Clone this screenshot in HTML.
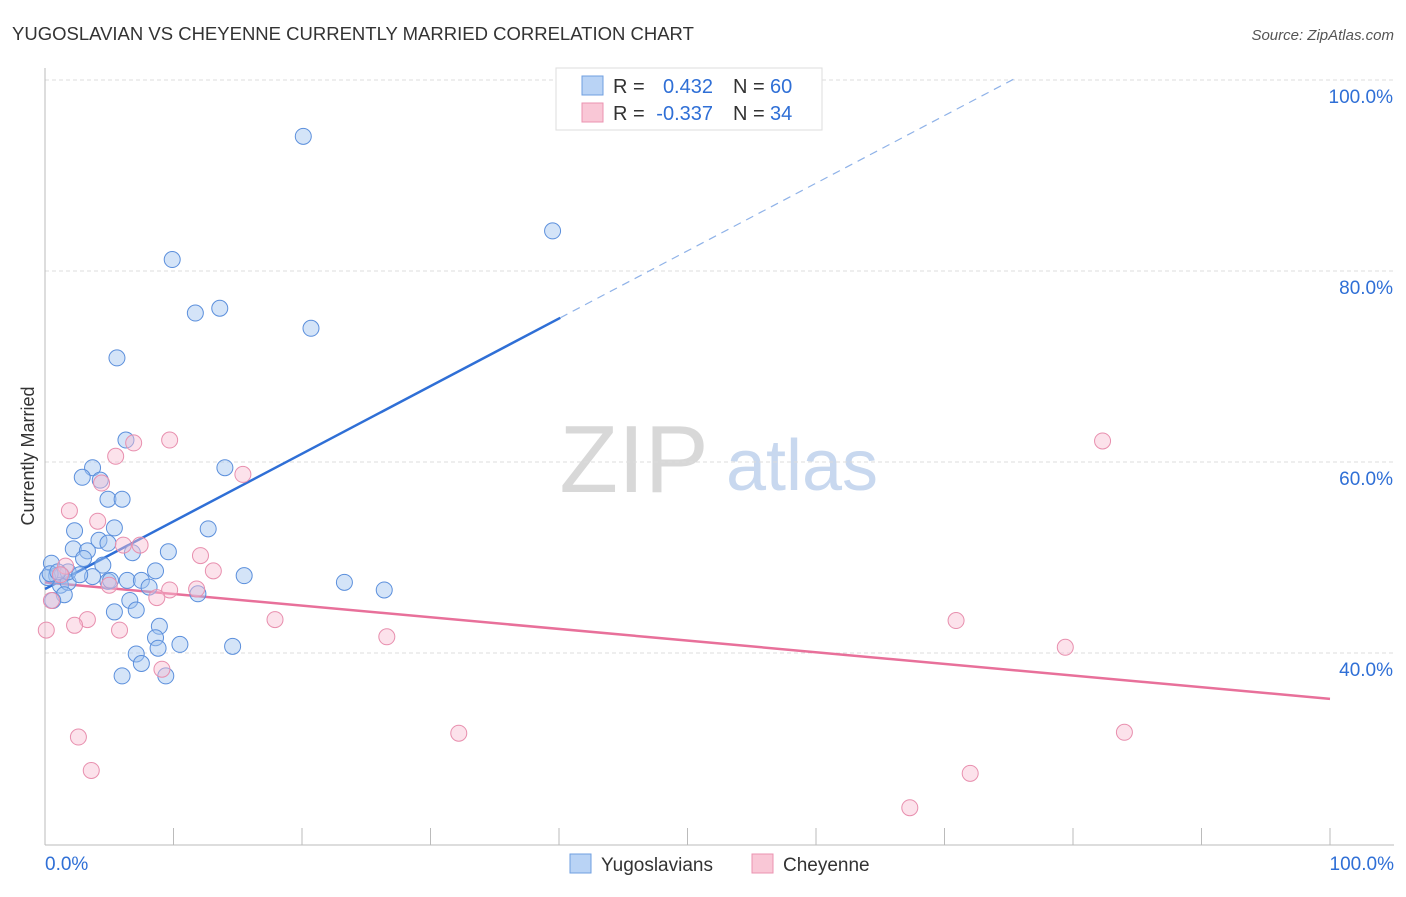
<!DOCTYPE html>
<html><head><meta charset="utf-8"><style>
body{margin:0;background:#fff;font-family:"Liberation Sans",sans-serif;}
svg text{font-family:"Liberation Sans",sans-serif;}
</style></head><body>
<svg id="chart" width="1406" height="892" xmlns="http://www.w3.org/2000/svg">
<text x="12" y="40" font-size="18.5" fill="#333">YUGOSLAVIAN VS CHEYENNE CURRENTLY MARRIED CORRELATION CHART</text>
<text x="1394" y="40" font-size="15" fill="#555" font-style="italic" text-anchor="end">Source: ZipAtlas.com</text>
<text x="34" y="456" font-size="18" fill="#333" text-anchor="middle" transform="rotate(-90 34 456)">Currently Married</text>
<g><text x="634" y="492" font-size="96" fill="#d8d8d8" font-family="Liberation Serif" text-anchor="middle">ZIP</text><text x="802" y="490" font-size="72" fill="#c8d8ef" text-anchor="middle">atlas</text></g>
<g id="grid"></g><g id="axes"></g><g id="lines"></g><g id="pts"></g>
<g>
<rect x="556" y="68" width="266" height="62" fill="#fff" stroke="#ddd"/>
<rect x="582" y="76" width="21" height="19" fill="#b9d3f5" stroke="#6f9fe0"/>
<rect x="582" y="103" width="21" height="19" fill="#f9c7d6" stroke="#eb93b0"/>
<text x="613" y="93" font-size="20" fill="#333">R =</text>
<text x="713" y="93" font-size="20" fill="#2f6fd6" text-anchor="end">0.432</text>
<text x="733" y="93" font-size="20" fill="#333">N =</text>
<text x="770" y="93" font-size="20" fill="#2f6fd6">60</text>
<text x="613" y="120" font-size="20" fill="#333">R =</text>
<text x="713" y="120" font-size="20" fill="#2f6fd6" text-anchor="end">-0.337</text>
<text x="733" y="120" font-size="20" fill="#333">N =</text>
<text x="770" y="120" font-size="20" fill="#2f6fd6">34</text>
</g>
<g>
<rect x="570" y="854" width="21" height="19" fill="#b9d3f5" stroke="#6f9fe0"/>
<text x="601" y="871" font-size="19" fill="#333">Yugoslavians</text>
<rect x="752" y="854" width="21" height="19" fill="#f9c7d6" stroke="#eb93b0"/>
<text x="783" y="871" font-size="19" fill="#333">Cheyenne</text>
</g>
</svg>
<script>
const blueX=[20.1,39.5,9.9,11.7,13.6,20.7,5.6,6.3,3.7,14.0,2.9,4.3,4.9,6.0,5.4,12.7,2.3,4.2,4.9,2.2,3.3,6.8,9.6,3.0,4.5,0.5,0.9,1.3,1.2,1.8,3.7,4.9,6.4,7.5,8.1,8.6,15.5,23.3,26.4,11.9,1.5,6.6,5.4,7.1,8.9,8.6,10.5,14.6,8.8,7.1,7.5,6.0,9.4,0.6,0.2,0.4,1.8,2.7,1.0,5.1];
const blueY=[94.1,84.2,81.2,75.6,76.1,74.0,70.9,62.3,59.4,59.4,58.4,58.1,56.1,56.1,53.1,53.0,52.8,51.8,51.5,50.9,50.7,50.5,50.6,49.9,49.2,49.4,48.1,48.1,47.1,47.4,48.0,47.5,47.6,47.6,46.9,48.6,48.1,47.4,46.6,46.2,46.1,45.5,44.3,44.5,42.8,41.6,40.9,40.7,40.5,39.9,38.9,37.6,37.6,45.5,47.9,48.3,48.5,48.2,48.5,47.6];
const pinkX=[82.3,9.7,6.9,5.5,15.4,4.4,1.9,4.1,6.1,7.4,12.1,13.1,1.6,5.0,9.7,11.8,8.7,17.9,3.3,2.3,5.8,26.6,0.1,70.9,79.4,9.1,2.6,32.2,84.0,3.6,72.0,67.3,0.5,1.2];
const pinkY=[62.2,62.3,62.0,60.6,58.7,57.8,54.9,53.8,51.3,51.3,50.2,48.6,49.1,47.1,46.6,46.7,45.8,43.5,43.5,42.9,42.4,41.7,42.4,43.4,40.6,38.3,31.2,31.6,31.7,27.7,27.4,23.8,45.5,48.2];
const blueTrend=[0,46.7,40.1,75.1,75.5];
const pinkTrend=[0,47.4,100,35.2];
const yTicks=[100,80,60,40];
const xTicks=[0,10,20,30,40,50,60,70,80,90,100];
const NS="http://www.w3.org/2000/svg";
const sx=v=>45+v*12.85, sy=v=>80+(100-v)*9.55;
function mk(t,a,p){const e=document.createElementNS(NS,t);for(const k in a)e.setAttribute(k,a[k]);document.getElementById(p).appendChild(e);return e;}
yTicks.forEach(v=>{
 const l=mk('line',{x1:45,x2:1394,y1:sy(v),y2:sy(v),stroke:'#ddd','stroke-dasharray':'4,3'},'grid');
 
 
 const t=mk('text',{x:1393,y:sy(v)+23,'font-size':19,fill:'#2f6fd6','text-anchor':'end'},'grid');t.textContent=v.toFixed(1)+'%';
 
 
});
mk('line',{x1:45,x2:45,y1:68,y2:845,stroke:'#bbb'},'axes');
mk('line',{x1:45,x2:1394,y1:845,y2:845,stroke:'#bbb'},'axes');
xTicks.forEach(v=>{const l=mk('line',{x1:sx(v),x2:sx(v),y1:828,y2:845,stroke:'#bbb'},'axes');
 
 });
[[0,'0.0%','start',45],[100,'100.0%','end',1394]].forEach(d=>{const t=mk('text',{x:d[3],y:870,'font-size':19,fill:'#2f6fd6','text-anchor':d[2]},'axes');t.textContent=d[1];
 
 });
let l=mk('line',{x1:sx(blueTrend[0]),y1:sy(blueTrend[1]),x2:sx(blueTrend[2]),y2:sy(blueTrend[3]),stroke:'#2f6fd6','stroke-width':2.5},'lines');


const sl=(blueTrend[3]-blueTrend[1])/(blueTrend[2]-blueTrend[0]);
l=mk('line',{x1:sx(blueTrend[2]),y1:sy(blueTrend[3]),x2:sx(blueTrend[4]),y2:sy(blueTrend[1]+sl*blueTrend[4]),stroke:'#8fb2e8','stroke-width':1.2,'stroke-dasharray':'8,6'},'lines');


l=mk('line',{x1:sx(pinkTrend[0]),y1:sy(pinkTrend[1]),x2:sx(pinkTrend[2]),y2:sy(pinkTrend[3]),stroke:'#e8709a','stroke-width':2.5},'lines');


blueX.forEach((x,i)=>{const c=mk('circle',{cx:sx(x),cy:sy(blueY[i]),r:8,fill:'rgba(160,195,240,0.45)',stroke:'#5b8fdc','stroke-width':1},'pts');
 
 });
pinkX.forEach((x,i)=>{const c=mk('circle',{cx:sx(x),cy:sy(pinkY[i]),r:8,fill:'rgba(248,190,210,0.45)',stroke:'#e88fae','stroke-width':1},'pts');
 
 });
</script>
</body></html>
